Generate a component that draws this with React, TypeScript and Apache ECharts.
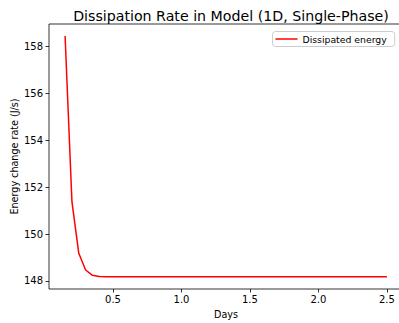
import React, { useEffect, useRef } from "react";
import * as echarts from "echarts";

const days = [
  0.15, 0.2, 0.25, 0.3, 0.35, 0.4, 0.45, 0.5, 0.55, 0.6, 0.65, 0.7, 0.75, 0.8,
  0.85, 0.9, 0.95, 1.0, 1.05, 1.1, 1.15, 1.2, 1.25, 1.3, 1.35, 1.4, 1.45, 1.5,
  1.55, 1.6, 1.65, 1.7, 1.75, 1.8, 1.85, 1.9, 1.95, 2.0, 2.05, 2.1, 2.15, 2.2,
  2.25, 2.3, 2.35, 2.4, 2.45, 2.5,
];
const dissipated = [
  158.44, 151.38, 149.18, 148.47, 148.24, 148.19, 148.18, 148.18, 148.18,
  148.18, 148.18, 148.18, 148.18, 148.18, 148.18, 148.18, 148.18, 148.18,
  148.18, 148.18, 148.18, 148.18, 148.18, 148.18, 148.18, 148.18, 148.18,
  148.18, 148.18, 148.18, 148.18, 148.18, 148.18, 148.18, 148.18, 148.18,
  148.18, 148.18, 148.18, 148.18, 148.18, 148.18, 148.18, 148.18, 148.18,
  148.18, 148.18, 148.18,
];
const xTicks = [0.5, 1.0, 1.5, 2.0, 2.5];
const yTicks = [148, 150, 152, 154, 156, 158];

const FONT = "DejaVu Sans";

export default function App() {
  const ref = useRef<HTMLDivElement>(null);
  useEffect(() => {
    if (!ref.current) return;
    const chart = echarts.init(ref.current, null, { renderer: "svg" });
    chart.setOption({
      animation: false,
      backgroundColor: "#fff",
      title: {
        text: "Dissipation Rate in Model (1D, Single-Phase)",
        left: 226,
        top: 4,
        textAlign: "center",
        textStyle: { fontFamily: FONT, fontSize: 14.2, fontWeight: "normal", color: "#000" },
      },
      legend: {
        left: 272.5,
        top: 31.5,
        icon: "rect",
        itemWidth: 22,
        itemHeight: 1.5,
        padding: [3, 8, 3, 3],
        borderColor: "#ccc",
        borderWidth: 1,
        borderRadius: 3,
        backgroundColor: "#fff",
        textStyle: { fontFamily: FONT, fontSize: 9.3, color: "#000" },
        data: ["Dissipated energy"],
      },
      grid: {
        left: 49,
        top: 24,
        right: 3,
        bottom: 34,
        outerBoundsMode: "none",
        show: true,
        borderColor: "#000",
        borderWidth: 0.8,
      },
      xAxis: {
        type: "value",
        min: 0.0325,
        max: 2.6175,
        name: "Days",
        nameLocation: "middle",
        nameGap: 20,
        nameMoveOverlap: false,
        nameTextStyle: { fontFamily: FONT, fontSize: 9.6, color: "#000" },
        splitLine: { show: false },
        axisLine: { show: false },
        axisTick: {
          show: true,
          length: 3.5,
          customValues: xTicks,
          lineStyle: { color: "#000", width: 0.8 },
        },
        axisLabel: {
          customValues: xTicks,
          margin: 5,
          fontFamily: FONT,
          fontSize: 10,
          color: "#000",
          formatter: (v: number) => v.toFixed(1),
        },
      },
      yAxis: {
        type: "value",
        min: 147.659,
        max: 158.95,
        name: "Energy change rate (J/s)",
        nameLocation: "middle",
        nameGap: 30,
        nameMoveOverlap: false,
        nameTextStyle: { fontFamily: FONT, fontSize: 9.6, color: "#000" },
        splitLine: { show: false },
        axisLine: { show: false },
        axisTick: {
          show: true,
          length: 3.5,
          customValues: yTicks,
          lineStyle: { color: "#000", width: 0.8 },
        },
        axisLabel: {
          customValues: yTicks,
          margin: 6,
          fontFamily: FONT,
          fontSize: 10,
          color: "#000",
          formatter: (v: number) => String(Math.round(v)),
        },
      },
      series: [
        {
          name: "Dissipated energy",
          type: "line",
          data: days.map((d, i) => [d, dissipated[i]]),
          showSymbol: false,
          symbol: "none",
          lineStyle: { color: "#ff0000", width: 1.5 },
          itemStyle: { color: "#ff0000" },
        },
      ],
    });
    return () => chart.dispose();
  }, []);
  return (
    <div
      style={{
        position: "absolute",
        left: 0,
        top: 0,
        width: 399,
        height: 323,
        overflow: "hidden",
      }}
    >
      <div ref={ref} style={{ width: 406, height: 323 }} />
    </div>
  );
}
